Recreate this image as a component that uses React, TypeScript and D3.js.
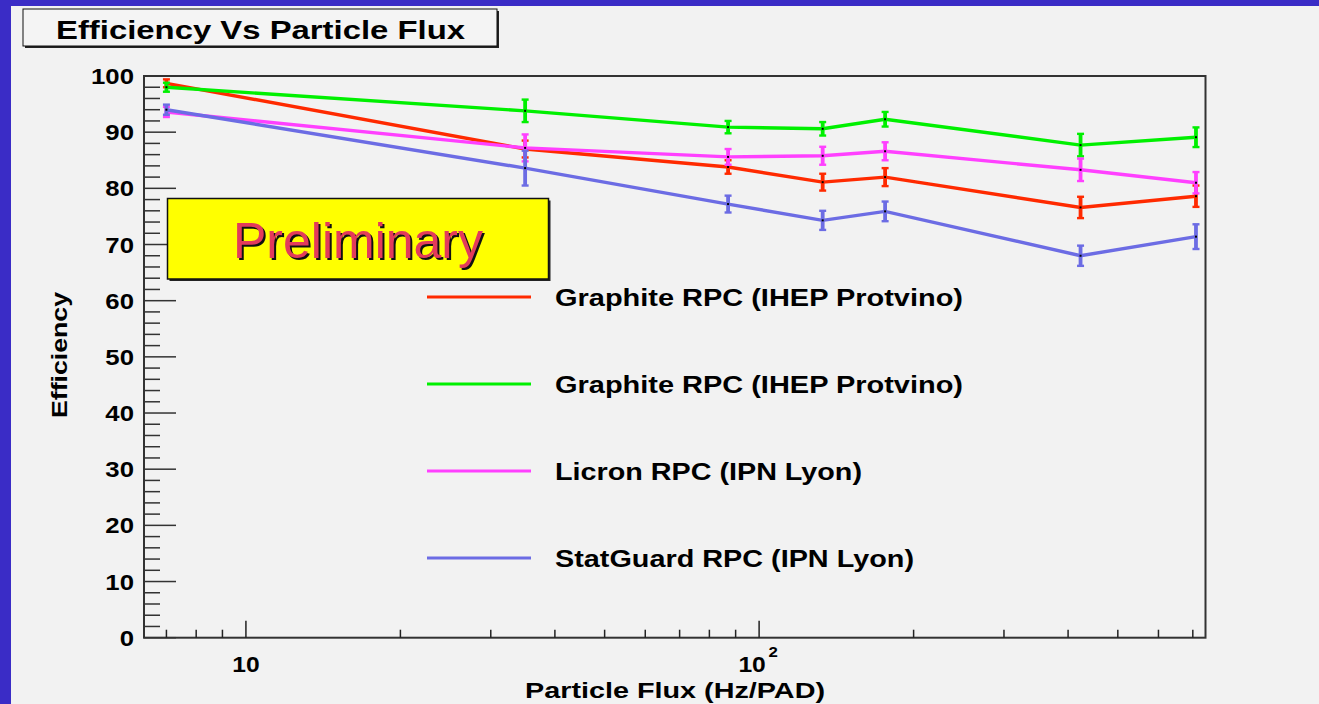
import React from "react";
import * as d3 from "d3";

// Particle flux (Hz/PAD) at which each efficiency was measured
const flux = [7, 35, 87, 133, 176, 423, 710];

// Efficiency (%) and its uncertainty for each chamber
const graphiteA = [98.7, 87.0, 83.8, 81.1, 82.0, 76.6, 78.6];
const graphiteAErr = [0.7, 1.5, 1.2, 1.5, 1.6, 1.9, 1.9];
const graphiteB = [98.0, 93.8, 90.9, 90.6, 92.3, 87.7, 89.1];
const graphiteBErr = [0.8, 2.0, 1.1, 1.2, 1.3, 2.0, 1.75];
const licron = [93.6, 87.2, 85.6, 85.8, 86.6, 83.3, 81.0];
const licronErr = [0.9, 2.4, 1.4, 1.6, 1.6, 2.0, 1.9];
const statGuard = [94.0, 83.6, 77.2, 74.3, 75.9, 68.0, 71.4];
const statGuardErr = [0.9, 3.1, 1.5, 1.7, 1.75, 1.8, 2.2];

const seriesNames = [
  "Graphite RPC (IHEP Protvino)",
  "Graphite RPC (IHEP Protvino)",
  "Licron RPC (IPN Lyon)",
  "StatGuard RPC (IPN Lyon)",
];
const seriesColors = ["#ff2a00", "#00f000", "#ff40ff", "#6c6ce4"];

const yTickLabels = [0, 10, 20, 30, 40, 50, 60, 70, 80, 90, 100];
const yMinorStep = 2;
const xMajorTicks = [10, 100];
const xMinorTicks = [7, 8, 9, 20, 30, 40, 50, 60, 70, 80, 90, 200, 300, 400, 500, 600, 700];

const W = 1319;
const H = 704;
const FONT = "'Liberation Sans', Arial, Helvetica, sans-serif";

export default function App() {
  const left = 144;
  const right = 1205.5;
  const top = 76;
  const bottom = 637.7;

  const x = d3.scaleLog().domain([6.33, 741]).range([left, right]);
  const y = d3.scaleLinear().domain([0, 100]).range([bottom, top]);

  const series = [
    { v: graphiteA, e: graphiteAErr },
    { v: graphiteB, e: graphiteBErr },
    { v: licron, e: licronErr },
    { v: statGuard, e: statGuardErr },
  ];

  const line = d3
    .line<number>()
    .x((_, i) => x(flux[i]))
    .y((d) => y(d));

  const yMinor = d3.range(0, 100 + 0.001, yMinorStep).filter((v) => v % 10 !== 0);

  const legendY = [297, 384, 471, 558];
  const legendWidths = [408, 408, 307, 359];

  return (
    <svg
      width={W}
      height={H}
      style={{ position: "absolute", left: 0, top: 0, display: "block" }}
      fontFamily={FONT}
    >
      {/* canvas background */}
      <rect x={0} y={0} width={W} height={H} fill="#3a2cc6" />
      <rect x={11} y={6} width={W - 11} height={H - 6} fill="#f2f2f2" />

      {/* title box */}
      <rect x={25} y={11} width={474} height={37} fill="#222" />
      <rect x={23} y={9} width={474} height={37} fill="#f4f4f4" stroke="#111" strokeWidth={1} />
      <text
        x={56}
        y={39}
        fontSize={26}
        fontWeight="bold"
        textLength={409}
        lengthAdjust="spacingAndGlyphs"
        fill="#000"
      >
        Efficiency Vs Particle Flux
      </text>

      {/* data: lines, error bars and markers */}
      {series.map((s, si) => (
        <g key={si}>
          <path d={line(s.v) || ""} fill="none" stroke={seriesColors[si]} strokeWidth={3.4} />
          {s.v.map((v, i) => {
            const cx = x(flux[i]);
            const y0 = y(v - s.e[i]);
            const y1 = y(v + s.e[i]);
            return (
              <g key={i}>
                <line x1={cx} x2={cx} y1={y0} y2={y1} stroke={seriesColors[si]} strokeWidth={3.8} />
                <line x1={cx - 3.5} x2={cx + 3.5} y1={y0} y2={y0} stroke={seriesColors[si]} strokeWidth={2.4} />
                <line x1={cx - 3.5} x2={cx + 3.5} y1={y1} y2={y1} stroke={seriesColors[si]} strokeWidth={2.4} />
                <rect x={cx - 1} y={y(v) - 1} width={2} height={2} fill="#000" />
              </g>
            );
          })}
        </g>
      ))}

      {/* frame */}
      <rect x={left} y={top} width={right - left} height={bottom - top} fill="none" stroke="#333" strokeWidth={2} />

      {/* y axis ticks */}
      {yTickLabels.map((v) => (
        <g key={v}>
          <line x1={left} x2={left + 32} y1={y(v)} y2={y(v)} stroke="#333" strokeWidth={1.5} />
          <text
            transform={`translate(${left - 10},${y(v) + 8}) scale(1.12,1)`}
            textAnchor="end"
            fontSize={23}
            fontWeight="bold"
            fill="#000"
          >
            {v}
          </text>
        </g>
      ))}
      {yMinor.map((v) => (
        <line key={v} x1={left} x2={left + 16} y1={y(v)} y2={y(v)} stroke="#333" strokeWidth={1.5} />
      ))}

      {/* x axis ticks */}
      {xMinorTicks.map((v) => (
        <line key={v} x1={x(v)} x2={x(v)} y1={bottom} y2={bottom - 8} stroke="#222" strokeWidth={1.5} />
      ))}
      {xMajorTicks.map((v) => (
        <line key={v} x1={x(v)} x2={x(v)} y1={bottom} y2={bottom - 17} stroke="#222" strokeWidth={1.5} />
      ))}
      <text
        transform={`translate(${x(10)},${672}) scale(1.12,1)`}
        textAnchor="middle"
        fontSize={22}
        fontWeight="bold"
      >
        10
      </text>
      <text
        transform={`translate(${x(100) - 7},${672}) scale(1.12,1)`}
        textAnchor="middle"
        fontSize={22}
        fontWeight="bold"
      >
        10
      </text>
      <text
        transform={`translate(${x(100) + 14},${657}) scale(1.12,1)`}
        textAnchor="middle"
        fontSize={15}
        fontWeight="bold"
      >
        2
      </text>

      {/* axis titles */}
      <text
        x={675}
        y={698}
        textAnchor="middle"
        fontSize={22}
        fontWeight="bold"
        textLength={300}
        lengthAdjust="spacingAndGlyphs"
      >
        Particle Flux (Hz/PAD)
      </text>
      <text
        transform={`translate(67,355) rotate(-90)`}
        textAnchor="middle"
        fontSize={22}
        fontWeight="bold"
        textLength={126}
        lengthAdjust="spacingAndGlyphs"
      >
        Efficiency
      </text>

      {/* Preliminary label */}
      <rect x={169.5} y={200.5} width={381} height={80.5} fill="#222" />
      <rect x={167.5} y={198.5} width={381} height={80.5} fill="#ffff00" stroke="#111" strokeWidth={1.5} />
      <text x={360} y={260} textAnchor="middle" fontSize={50} fill="#111">
        Preliminary
      </text>
      <text x={358} y={258} textAnchor="middle" fontSize={50} fill="#e33b5b">
        Preliminary
      </text>

      {/* legend */}
      {seriesNames.map((name, i) => (
        <g key={i}>
          <line x1={427} x2={531} y1={legendY[i]} y2={legendY[i]} stroke={seriesColors[i]} strokeWidth={3.2} />
          <text
            x={555}
            y={legendY[i] + 9}
            fontSize={23}
            fontWeight="bold"
            textLength={legendWidths[i]}
            lengthAdjust="spacingAndGlyphs"
          >
            {name}
          </text>
        </g>
      ))}
    </svg>
  );
}
